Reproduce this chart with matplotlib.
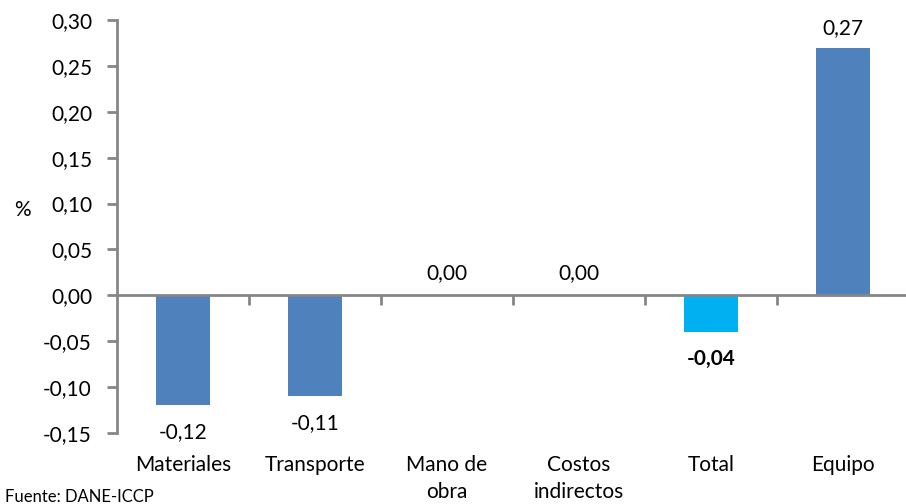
import matplotlib.pyplot as plt
import matplotlib.transforms as mtransforms
import numpy as np

plt.rcParams['font.family'] = ['Lato', 'DejaVu Sans']

# Datos
categorias = ['Materiales', 'Transporte', 'Mano de\nobra', 'Costos\nindirectos', 'Total', 'Equipo']
valores = [-0.12, -0.11, 0.00, 0.00, -0.04, 0.27]
etiquetas = ['-0,12', '-0,11', '0,00', '0,00', '-0,04', '0,27']
colores = ['#4F81BD', '#4F81BD', '#4F81BD', '#4F81BD', '#00B0F0', '#4F81BD']
yticks = [-0.15, -0.10, -0.05, 0.00, 0.05, 0.10, 0.15, 0.20, 0.25, 0.30]

gris = '#868686'
fs = 15

fig = plt.figure(figsize=(9.06, 5.04), dpi=100)
ax = fig.add_axes([117 / 906, 1 - 433 / 504, 792 / 906, 413 / 504])

x = np.arange(len(categorias))
ax.bar(x, valores, width=0.41, color=colores, zorder=2)

ax.set_xlim(-0.5, len(categorias) - 0.5)
ax.set_ylim(-0.15, 0.30)
ax.set_yticks(yticks)
ax.set_yticklabels([f'{v:.2f}'.replace('.', ',') for v in yticks], fontsize=fs)
ax.tick_params(axis='y', direction='out', length=7, width=2, color=gris, pad=11)

# eje x en cero con marcas entre categorias
ax.spines['bottom'].set_position(('data', 0))
ax.spines['bottom'].set_color(gris)
ax.spines['bottom'].set_linewidth(2)
ax.spines['left'].set_color(gris)
ax.spines['left'].set_linewidth(2)
ax.spines['top'].set_visible(False)
ax.spines['right'].set_visible(False)
ax.set_xticks(np.arange(0.5, len(categorias) - 0.5, 1.0))
ax.set_xticklabels([])
ax.tick_params(axis='x', direction='out', length=7, width=2, color=gris)

# etiquetas de valores
for i, (v, t) in enumerate(zip(valores, etiquetas)):
    if v > 0:
        ax.annotate(t, (i, v), xytext=(0, 7), textcoords='offset points',
                    ha='center', va='bottom', fontsize=fs)
    elif v == 0:
        ax.annotate(t, (i, v), xytext=(0, 9), textcoords='offset points',
                    ha='center', va='bottom', fontsize=fs)
    else:
        peso = 'bold' if categorias[i] == 'Total' else 'normal'
        ax.annotate(t, (i, v), xytext=(0, -12), textcoords='offset points',
                    ha='center', va='top', fontsize=fs, fontweight=peso)

# nombres de categorias debajo del area
trans = mtransforms.blended_transform_factory(ax.transData, fig.transFigure)
for i, c in enumerate(categorias):
    ax.text(i, 1 - 455 / 504, c, transform=trans, ha='center', va='top',
            fontsize=fs, linespacing=1.45)

fig.text(22 / 906, 1 - 210 / 504, '%', ha='center', va='center', fontsize=fs)
fig.text(5 / 906, 1 - 502 / 504, 'Fuente: DANE-ICCP', ha='left', va='baseline', fontsize=12)

fig.savefig('out.png', dpi=100)
